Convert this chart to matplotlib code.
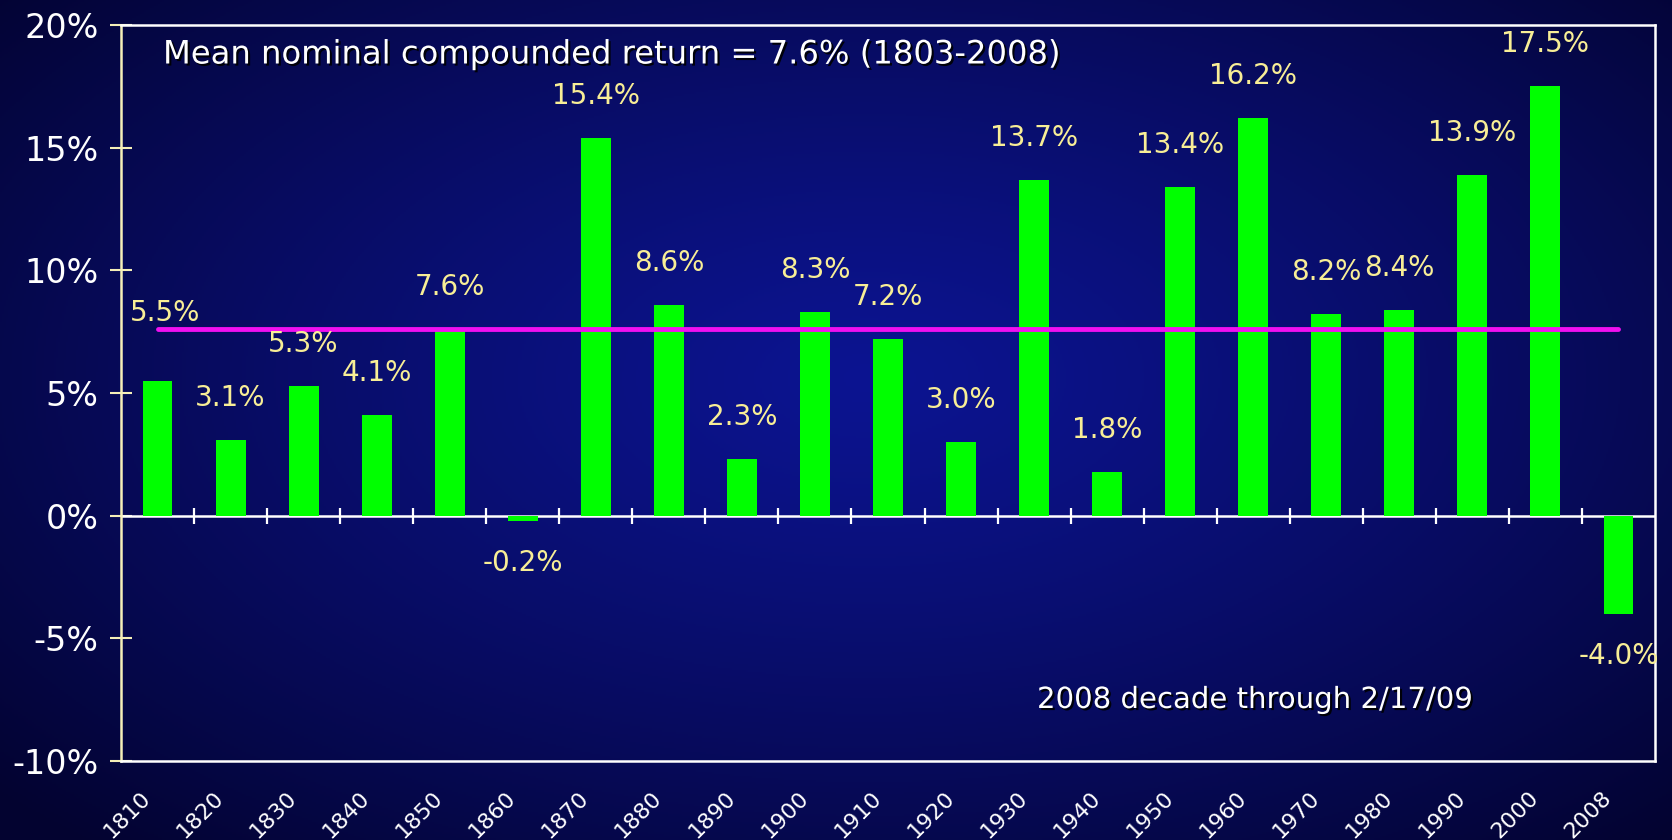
import numpy as np
import matplotlib
matplotlib.use("Agg")
import matplotlib.pyplot as plt
import matplotlib.patheffects as pe

# decade returns (%)
decades = ["1810", "1820", "1830", "1840", "1850", "1860", "1870", "1880", "1890", "1900",
           "1910", "1920", "1930", "1940", "1950", "1960", "1970", "1980", "1990", "2000", "2008"]
returns = [5.5, 3.1, 5.3, 4.1, 7.6, -0.2, 15.4, 8.6, 2.3, 8.3,
           7.2, 3.0, 13.7, 1.8, 13.4, 16.2, 8.2, 8.4, 13.9, 17.5, -4.0]
mean_return = 7.6
y_ticks = [-10, -5, 0, 5, 10, 15, 20]

title_text = "Mean nominal compounded return = 7.6% (1803-2008)"
note_text = "2008 decade through 2/17/09"

label_color = "#F8EE96"
shadow = [pe.withSimplePatchShadow(offset=(1.5, -1.5), shadow_rgbFace="black", alpha=0.9)]

fig = plt.figure(figsize=(16.72, 8.4), dpi=100)

# background: dark navy radial gradient
bg = fig.add_axes([0, 0, 1, 1], zorder=-10)
yy, xx = np.mgrid[1:0:420j, 0:1:836j]
r = np.sqrt(((xx - 0.52) / 0.7) ** 2 + ((yy - 0.55) / 0.75) ** 2)
r = np.clip(r, 0, 1) ** 1.2
inner = np.array([12, 20, 145]) / 255
outer = np.array([3, 3, 48]) / 255
img = inner[None, None, :] * (1 - r[..., None]) + outer[None, None, :] * r[..., None]
bg.imshow(img, aspect="auto", extent=[0, 1, 0, 1])
bg.axis("off")

ax = fig.add_axes([121 / 1672, 1 - 761 / 840, (1655 - 121) / 1672, (761 - 25) / 840])
ax.patch.set_alpha(0)

x = np.arange(len(decades))
ax.bar(x, returns, width=0.41, color="#00FF00", zorder=3)

# zero line with boundary ticks crossing it
ax.axhline(0, color="white", lw=1.8, zorder=2)
ax.plot(x[:-1] + 0.5, np.zeros(len(x) - 1), ls="none", marker="|",
        ms=12, mew=1.6, color="white", zorder=2)

# mean line
ax.plot([x[0], x[-1]], [mean_return, mean_return], color="#F010F0", lw=3.5,
        solid_capstyle="round", zorder=4)

# value labels
for i, v in enumerate(returns):
    dx, dy = 0, (42 if v >= 0 else -42)
    if i == 0:
        dx, dy = 8, 68
    ax.annotate(f"{v:.1f}%", (x[i], v), xytext=(dx, dy), textcoords="offset pixels",
                ha="center", va="center", color=label_color, fontsize=20, zorder=5)

# decade labels, rotated and set to the left of each bar
for i, d in enumerate(decades):
    ax.annotate(d, (x[i], 0), xycoords=("data", "axes fraction"), xytext=(-10, -34),
                textcoords="offset pixels", ha="right", va="center", rotation=45,
                rotation_mode="anchor", color="white", fontsize=16, annotation_clip=False)

ax.set_xlim(-0.5, len(decades) - 0.5)
ax.set_ylim(-10, 20)
ax.set_yticks(y_ticks)
ax.set_yticklabels([f"{t}%" for t in y_ticks])
ax.set_xticks([])

ax.tick_params(axis="y", direction="inout", length=16, width=1.5, color="#F5EFB8",
               labelcolor="white", labelsize=24, pad=8)

for side in ["top", "right", "bottom"]:
    ax.spines[side].set_color("white")
    ax.spines[side].set_linewidth(1.8)
ax.spines["left"].set_color("#F5EFB8")
ax.spines["left"].set_linewidth(1.8)

fig.text(163 / 1672, 1 - 55 / 840, title_text, color="white",
         fontsize=23.2, ha="left", va="center", path_effects=shadow)
fig.text(1037 / 1672, 1 - 700 / 840, note_text, color="white",
         fontsize=21, ha="left", va="center", path_effects=shadow)

fig.savefig("out.png", dpi=100)
